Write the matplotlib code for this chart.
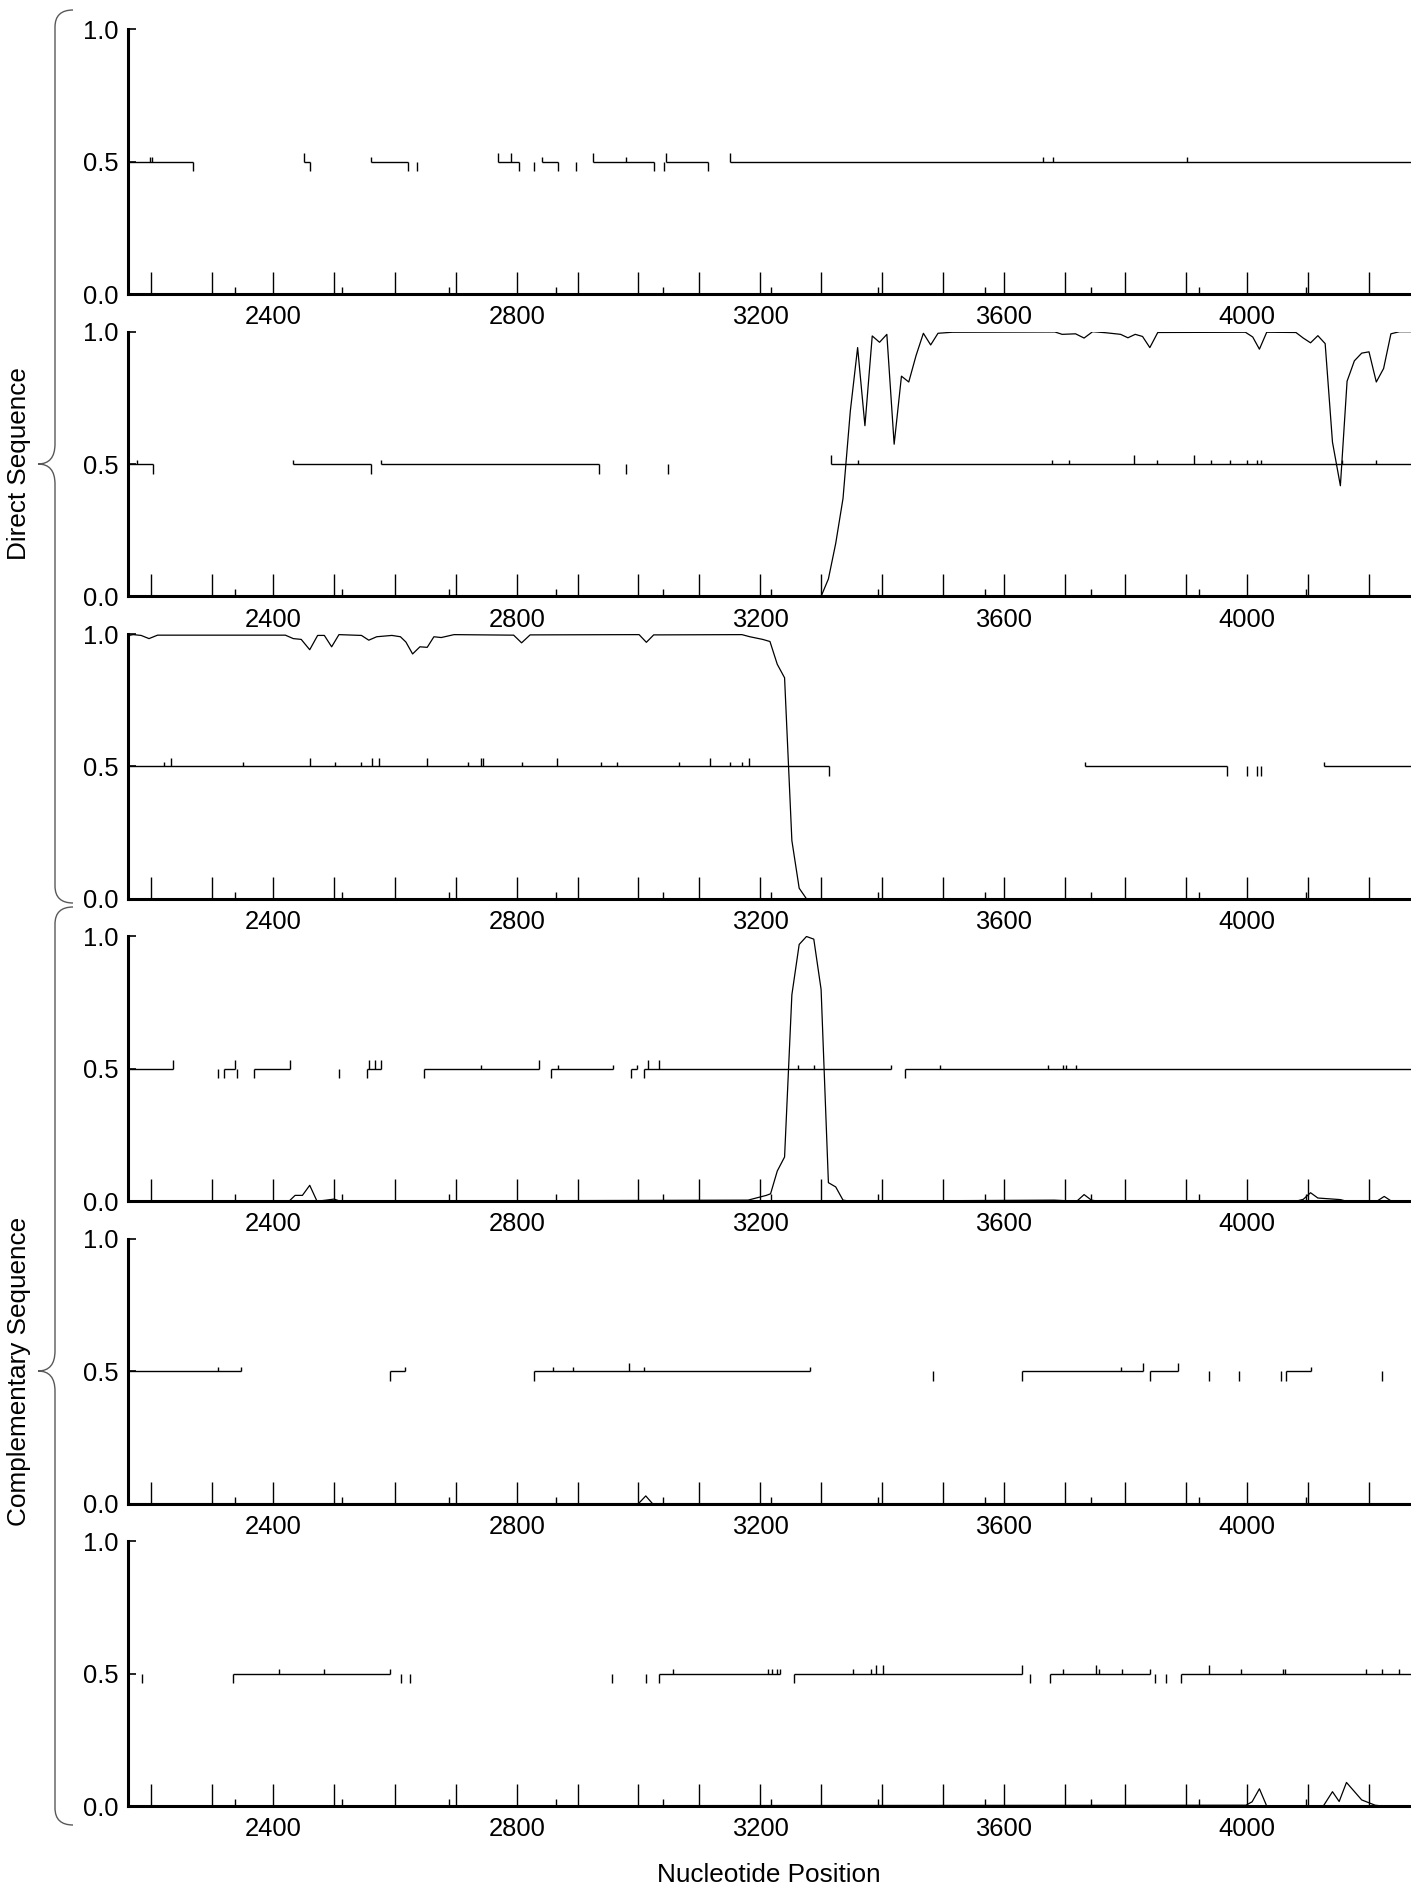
import matplotlib.pyplot as plt
from matplotlib.path import Path
from matplotlib.patches import PathPatch

plt.rcParams['font.family'] = ['Liberation Sans', 'DejaVu Sans']

W, H = 1411, 1885
x_lo, x_hi = 2161, 4269

# short marks along the x axis (second scale)
aln_ticks = [2337, 2513, 2689, 2865, 3041, 3217, 3393, 3569, 3744, 3920, 4096]

# ---- panel 1 (direct) ----
seg1 = [(2161, 2268), (2451, 2460), (2560, 2622), (2769, 2803), (2841, 2868),
        (2925, 3025), (3046, 3115), (3150, 4269)]
up1 = [2451, 2769, 2790, 2925, 3046, 3150]
sm1 = [2197, 2201, 2560, 2841, 2979, 3664, 3681, 3901]
dn1 = [2268, 2460, 2622, 2637, 2803, 2829, 2868, 2898, 3025, 3042, 3115]
cx1 = [2161, 4269]
cy1 = [0.0, 0.0]

# ---- panel 2 ----
seg2 = [(2161, 2202), (2433, 2560), (2577, 2935), (3316, 4269)]
up2 = [3316, 3814, 3913]
sm2 = [2176, 2433, 2577, 3360, 3679, 3708, 3852, 3940, 3972, 3999, 4016, 4023,
       4156, 4212]
dn2 = [2202, 2560, 2935, 2979, 3048]
cx2 = [2161, 3300, 3312, 3324, 3336, 3348, 3360, 3372, 3384, 3396, 3408, 3420,
       3432, 3444, 3456, 3468, 3480, 3492, 3516, 3684, 3696, 3718, 3732, 3746,
       3768, 3792, 3804, 3816, 3828, 3840, 3853, 3997, 4009, 4020, 4032, 4080,
       4092, 4104, 4116, 4128, 4140, 4153, 4164, 4176, 4188, 4200, 4212, 4224,
       4236, 4250, 4269]
cy2 = [0.0, 0.0, 0.066, 0.20, 0.37, 0.70, 0.94, 0.645, 0.984, 0.96, 0.99, 0.575,
       0.832, 0.81, 0.91, 0.994, 0.95, 0.994, 0.998, 0.999, 0.99, 0.992, 0.976,
       1.0, 0.996, 0.99, 0.977, 0.99, 0.982, 0.94, 0.997, 0.998, 0.98, 0.934,
       0.998, 0.997, 0.976, 0.958, 0.985, 0.955, 0.583, 0.418, 0.813, 0.89,
       0.919, 0.924, 0.81, 0.861, 0.992, 1.0, 1.0]

# ---- panel 3 ----
seg3 = [(2161, 3313), (3733, 3966), (4126, 4269)]
up3 = [2232, 2460, 2562, 2573, 2653, 2741, 2745, 2866, 3118, 3182]
sm3 = [2220, 2350, 2501, 2545, 2720, 2808, 2938, 2965, 3067, 3150, 3170, 3733,
       4126]
dn3 = [3313, 3966, 4000, 4016, 4023]
cx3 = [2161, 2170, 2183, 2196, 2210, 2420, 2433, 2446, 2460, 2473, 2484, 2496,
       2508, 2545, 2557, 2570, 2595, 2609, 2618, 2629, 2641, 2653, 2664, 2676,
       2697, 2795, 2808, 2822, 3001, 3013, 3025, 3170, 3183, 3204, 3216, 3228,
       3240, 3252, 3264, 3276, 4269]
cy3 = [0.994, 0.998, 0.995, 0.983, 0.996, 0.996, 0.983, 0.98, 0.941, 0.995,
       0.995, 0.952, 0.998, 0.995, 0.977, 0.99, 0.995, 0.99, 0.97, 0.925, 0.952,
       0.95, 0.99, 0.987, 0.998, 0.996, 0.967, 0.997, 0.998, 0.969, 0.997,
       0.998, 0.99, 0.98, 0.972, 0.886, 0.835, 0.22, 0.04, 0.0, 0.0]

# ---- panel 4 (complementary) ----
seg4 = [(2161, 2236), (2320, 2337), (2368, 2428), (2554, 2577), (2647, 2837),
        (2856, 2958), (2988, 2998), (3009, 3415), (3438, 4269)]
up4 = [2236, 2337, 2428, 2558, 2567, 2577, 2837, 3015, 3033]
sm4 = [2742, 2868, 2958, 2998, 3262, 3289, 3415, 3496, 3673, 3698, 3703, 3718]
dn4 = [2310, 2320, 2341, 2368, 2508, 2554, 2647, 2856, 2988, 3009, 3438]
cx4 = [2161, 2426, 2436, 2448, 2460, 2472, 2487, 2500, 2510, 3180, 3210, 3217,
       3228, 3240, 3252, 3264, 3276, 3288, 3300, 3312, 3324, 3336, 3348, 3683,
       3720, 3732, 3744, 3756, 4080, 4092, 4104, 4116, 4153, 4163, 4213, 4225,
       4237, 4269]
cy4 = [0.0, 0.0, 0.022, 0.022, 0.06, 0.0, 0.004, 0.008, 0.0, 0.004, 0.022, 0.028,
       0.114, 0.167, 0.78, 0.97, 1.0, 0.99, 0.8, 0.07, 0.054, 0.004, 0.0, 0.004,
       0.0, 0.025, 0.004, 0.0, 0.0, 0.007, 0.032, 0.012, 0.006, 0.0, 0.0, 0.018,
       0.0, 0.0]

# ---- panel 5 ----
seg5 = [(2161, 2347), (2592, 2616), (2829, 3282), (3630, 3829), (3841, 3886),
        (4063, 4104)]
up5 = [2985, 3829, 3886]
sm5 = [2310, 2347, 2616, 2860, 2892, 3009, 3282, 3793, 4104]
dn5 = [2592, 2829, 3484, 3630, 3841, 3937, 3987, 4056, 4063, 4222]
cx5 = [2161, 3000, 3012, 3023, 4269]
cy5 = [0.0, 0.0, 0.029, 0.0, 0.0]

# ---- panel 6 ----
seg6 = [(2334, 2592), (3033, 3232), (3256, 3630), (3676, 3841), (3891, 4269)]
up6 = [3391, 3401, 3630, 3751, 3937]
sm6 = [2410, 2483, 2592, 3057, 3213, 3220, 3227, 3232, 3352, 3382, 3697, 3756,
       3795, 3841, 3989, 4058, 4062, 4195, 4222, 4249]
dn6 = [2184, 2334, 2610, 2624, 2956, 3013, 3033, 3256, 3643, 3676, 3849, 3867,
       3891]
cx6 = [2161, 3998, 4008, 4020, 4032, 4125, 4140, 4151, 4163, 4188, 4210, 4222,
       4269]
cy6 = [0.0, 0.003, 0.016, 0.065, 0.0, 0.0, 0.054, 0.017, 0.089, 0.023, 0.003,
       0.0, 0.0]

panels = [(seg1, up1, sm1, dn1, cx1, cy1), (seg2, up2, sm2, dn2, cx2, cy2),
          (seg3, up3, sm3, dn3, cx3, cy3), (seg4, up4, sm4, dn4, cx4, cy4),
          (seg5, up5, sm5, dn5, cx5, cy5), (seg6, up6, sm6, dn6, cx6, cy6)]

fig = plt.figure(figsize=(W / 100, H / 100), dpi=100)

left_px = 127.7
ax_h = 264.7
axes = []
for i, (seg, up, sm, dn, cx, cy) in enumerate(panels):
    base = 294 + i * 302.4
    ax = fig.add_axes([left_px / W, 1 - base / H, (W - left_px) / W, ax_h / H])
    axes.append(ax)
    ax.set_xlim(x_lo, x_hi)
    ax.set_ylim(0, 1)

    ax.hlines([0.5] * len(seg), [s[0] for s in seg], [s[1] for s in seg],
              color='k', lw=1.0)
    ax.vlines(up, 0.5, 0.533, color='k', lw=1.0)
    ax.vlines(sm, 0.5, 0.516, color='k', lw=1.0)
    ax.vlines(dn, 0.464, 0.5, color='k', lw=1.0)
    ax.plot(cx, cy, color='k', lw=0.9)

    ax.vlines(aln_ticks, 0, 7 / ax_h, color='k', lw=1.0,
              transform=ax.get_xaxis_transform())

    for s in ['top', 'right']:
        ax.spines[s].set_visible(False)
    for s in ['left', 'bottom']:
        ax.spines[s].set_linewidth(2.2)

    ax.set_xticks(range(2400, 4269, 400))
    ax.set_xticks([t for t in range(2200, 4269, 100) if t % 400], minor=True)
    ax.set_yticks([0, 0.5, 1.0])
    ax.set_yticklabels(['0.0', '0.5', '1.0'])
    ax.tick_params(axis='x', which='both', direction='in', length=15.5,
                   width=1.0, labelsize=18.4, pad=8)
    ax.tick_params(axis='y', direction='in', length=6, width=1.2,
                   labelsize=18.4, pad=6.5)

fig.text(769 / W, 1 - 1881.5 / H, 'Nucleotide Position', ha='center',
         va='baseline', fontsize=18.8)


def brace(y0, y1, ym):
    xl, xe, xc, r, rc = 55, 73, 38, 17, 20
    pts = [(xe, y0), (xl, y0), (xl, y0 + r), (xl, ym - rc), (xl, ym), (xc, ym),
           (xl, ym), (xl, ym + rc), (xl, y1 - r), (xl, y1), (xe, y1)]
    codes = [Path.MOVETO, Path.CURVE3, Path.CURVE3, Path.LINETO, Path.CURVE3,
             Path.CURVE3, Path.CURVE3, Path.CURVE3, Path.LINETO, Path.CURVE3,
             Path.CURVE3]
    verts = [(x / W, 1 - y / H) for x, y in pts]
    fig.add_artist(PathPatch(Path(verts, codes), fc='none', ec='0.35', lw=1.0,
                             transform=fig.transFigure))


brace(10, 903, 464)
brace(907, 1825, 1371)

fig.text(19 / W, 1 - 464 / H, 'Direct Sequence', rotation=90, ha='center',
         va='center', fontsize=18.8)
fig.text(19 / W, 1 - 1371 / H, 'Complementary Sequence', rotation=90,
         ha='center', va='center', fontsize=18.8)

fig.savefig('out.png', dpi=100)
